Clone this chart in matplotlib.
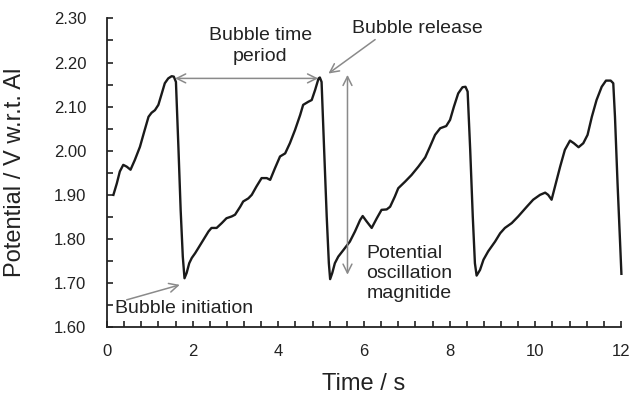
import matplotlib
matplotlib.use('Agg')
import matplotlib.pyplot as plt
from matplotlib.ticker import MultipleLocator, FormatStrFormatter

# 数据：时间 (s) 与电位 (V vs Al)
time = [0.15, 0.23, 0.30, 0.38, 0.46, 0.55, 0.65, 0.77, 0.86, 0.97,
        1.04, 1.12, 1.20, 1.28, 1.35, 1.43, 1.51, 1.56, 1.61, 1.67,
        1.72, 1.77, 1.81, 1.86, 1.92, 1.98, 2.06, 2.13, 2.25, 2.37,
        2.44, 2.56, 2.68, 2.79, 2.91, 2.99, 3.11, 3.18, 3.30, 3.38,
        3.49, 3.61, 3.73, 3.81, 3.92, 4.04, 4.16, 4.27, 4.39, 4.51,
        4.58, 4.70, 4.78, 4.86, 4.94, 4.97,
        5.01, 5.07, 5.13, 5.18, 5.21, 5.26, 5.32, 5.40, 5.52, 5.67,
        5.79, 5.91, 5.97, 6.06, 6.18, 6.30, 6.41, 6.53, 6.61, 6.72,
        6.80, 6.96, 7.11, 7.27, 7.43, 7.54, 7.66, 7.78, 7.92, 8.01,
        8.10, 8.20, 8.30, 8.37, 8.42, 8.48, 8.54, 8.59, 8.63, 8.71,
        8.79, 8.90, 9.06, 9.18, 9.29, 9.45, 9.60, 9.80, 9.95, 10.11,
        10.23, 10.30, 10.38, 10.46, 10.58, 10.69, 10.81, 10.90, 11.01, 11.12,
        11.22, 11.32, 11.43, 11.55, 11.65, 11.76, 11.82, 11.86, 11.92, 11.98,
        12.01]
potential = [1.900, 1.926, 1.953, 1.968, 1.964, 1.957, 1.979, 2.009, 2.040, 2.077,
             2.086, 2.092, 2.104, 2.130, 2.153, 2.164, 2.169, 2.168, 2.156, 2.002,
             1.866, 1.760, 1.711, 1.723, 1.745, 1.757, 1.768, 1.779, 1.798, 1.817,
             1.825, 1.825, 1.836, 1.847, 1.851, 1.855, 1.873, 1.885, 1.892, 1.900,
             1.919, 1.938, 1.938, 1.934, 1.960, 1.987, 1.994, 2.017, 2.047, 2.081,
             2.104, 2.111, 2.115, 2.138, 2.164, 2.166,
             2.156, 2.002, 1.851, 1.745, 1.709, 1.723, 1.745, 1.760, 1.775, 1.794,
             1.817, 1.843, 1.852, 1.840, 1.825, 1.847, 1.866, 1.867, 1.873, 1.896,
             1.915, 1.930, 1.945, 1.964, 1.985, 2.009, 2.036, 2.051, 2.056, 2.070,
             2.100, 2.130, 2.144, 2.145, 2.134, 2.002, 1.851, 1.745, 1.717, 1.730,
             1.753, 1.772, 1.794, 1.813, 1.825, 1.836, 1.851, 1.873, 1.889, 1.900,
             1.905, 1.900, 1.889, 1.919, 1.964, 2.002, 2.023, 2.017, 2.008, 2.017,
             2.036, 2.077, 2.115, 2.145, 2.159, 2.159, 2.153, 2.077, 1.926, 1.790,
             1.721]

x_ticks = [0, 2, 4, 6, 8, 10, 12]

plt.rcParams['font.family'] = ['Liberation Sans', 'DejaVu Sans']

fig = plt.figure(figsize=(6.33, 4.0), dpi=100)
ax = fig.add_axes([0.169, 0.182, 0.812, 0.772])

ax.plot(time, potential, color='#1a1a1a', linewidth=1.7,
        solid_joinstyle='round', clip_on=False)

# 坐标轴
ax.set_xlim(0, 12)
ax.set_ylim(1.60, 2.30)
ax.set_xticks(x_ticks)
ax.xaxis.set_minor_locator(MultipleLocator(0.4))
ax.yaxis.set_major_locator(MultipleLocator(0.1))
ax.yaxis.set_minor_locator(MultipleLocator(0.05))
ax.yaxis.set_major_formatter(FormatStrFormatter('%.2f'))
for side in ['top', 'right']:
    ax.spines[side].set_visible(False)
for side in ['left', 'bottom']:
    ax.spines[side].set_linewidth(1.3)
    ax.spines[side].set_color('#222222')
ax.tick_params(which='both', direction='in', length=4, width=1.2,
               color='#222222', labelsize=12, labelcolor='#222222')
ax.tick_params(axis='x', pad=12)
ax.tick_params(axis='y', pad=15)

ax.set_xlabel('Time / s', fontsize=17, color='#222222', labelpad=10)
ax.set_ylabel('Potential / V w.r.t. Al', fontsize=17, color='#222222', labelpad=20)

# 注释
grey = '#8a8a8a'
aprops = dict(arrowstyle='<->', color=grey, lw=1.1, mutation_scale=16,
              shrinkA=0, shrinkB=0)
sprops = dict(arrowstyle='->', color=grey, lw=1.1, mutation_scale=16,
              shrinkA=0, shrinkB=0)

ax.annotate('', xy=(4.93, 2.164), xytext=(1.59, 2.164), arrowprops=aprops)
ax.text(3.58, 2.238, 'Bubble time\nperiod', fontsize=14, ha='center',
        va='center', color='#222222', linespacing=1.3)

ax.annotate('', xy=(5.17, 2.175), xytext=(6.26, 2.252), arrowprops=sprops)
ax.text(5.71, 2.266, 'Bubble release', fontsize=14, ha='left',
        va='baseline', color='#222222')

ax.annotate('', xy=(5.615, 1.719), xytext=(5.615, 2.172), arrowprops=aprops)
ax.text(6.06, 1.722, 'Potential\noscillation\nmagnitide', fontsize=14,
        ha='left', va='center', color='#222222', linespacing=1.25)

ax.annotate('', xy=(1.70, 1.696), xytext=(0.46, 1.662), arrowprops=sprops)
ax.text(0.19, 1.632, 'Bubble initiation', fontsize=14, ha='left',
        va='baseline', color='#222222')

plt.savefig('out.png', dpi=100)
